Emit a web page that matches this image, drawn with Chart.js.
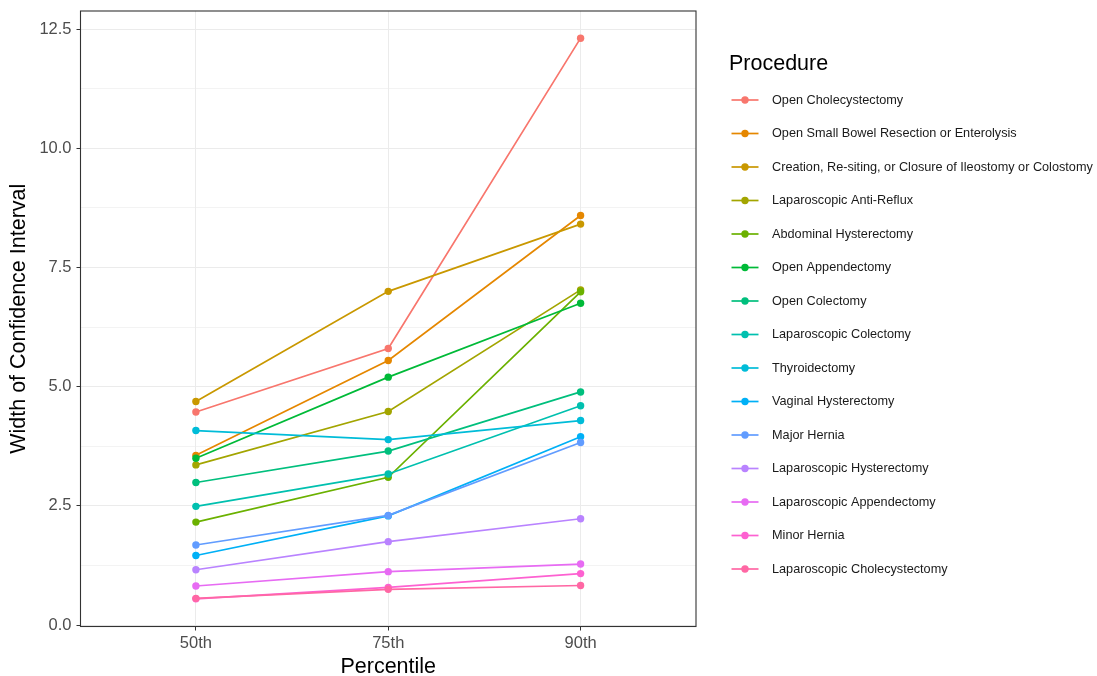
<!DOCTYPE html>
<html><head><meta charset="utf-8">
<script src="https://cdn.jsdelivr.net/npm/chart.js@4/dist/chart.umd.min.js"></script>
<style>html,body{margin:0;padding:0;background:#fff;overflow:hidden}</style>
</head><body>
<canvas id="c" width="1097" height="676" style="width:1097px;height:676px;display:block"></canvas>
<script>
// ---- data ----
const percentiles = ['50th', '75th', '90th'];
const procedures = [
  'Open Cholecystectomy',
  'Open Small Bowel Resection or Enterolysis',
  'Creation, Re-siting, or Closure of Ileostomy or Colostomy',
  'Laparoscopic Anti-Reflux',
  'Abdominal Hysterectomy',
  'Open Appendectomy',
  'Open Colectomy',
  'Laparoscopic Colectomy',
  'Thyroidectomy',
  'Vaginal Hysterectomy',
  'Major Hernia',
  'Laparoscopic Hysterectomy',
  'Laparoscopic Appendectomy',
  'Minor Hernia',
  'Laparoscopic Cholecystectomy'
];
const openCholecystectomy   = [4.47, 5.80, 12.31];
const openSmallBowel        = [3.56, 5.55, 8.59];
const ostomyCreation        = [4.69, 7.00, 8.41];
const lapAntiReflux         = [3.36, 4.48, 7.03];
const abdominalHysterectomy = [2.16, 3.10, 6.99];
const openAppendectomy      = [3.50, 5.20, 6.75];
const openColectomy         = [2.99, 3.65, 4.89];
const lapColectomy          = [2.49, 3.17, 4.60];
const thyroidectomy         = [4.08, 3.89, 4.29];
const vaginalHysterectomy   = [1.46, 2.29, 3.95];
const majorHernia           = [1.68, 2.30, 3.83];
const lapHysterectomy       = [1.16, 1.75, 2.23];
const lapAppendectomy       = [0.82, 1.12, 1.28];
const minorHernia           = [0.55, 0.79, 1.08];
const lapCholecystectomy    = [0.56, 0.75, 0.83];
const seriesValues = [openCholecystectomy, openSmallBowel, ostomyCreation, lapAntiReflux,
  abdominalHysterectomy, openAppendectomy, openColectomy, lapColectomy, thyroidectomy,
  vaginalHysterectomy, majorHernia, lapHysterectomy, lapAppendectomy, minorHernia, lapCholecystectomy];
const colors = ['#F8766D','#E58700','#C99800','#A3A500','#6BB100','#00BA38','#00BF7D','#00C0AF',
  '#00BCD8','#00B0F6','#619CFF','#B983FF','#E76BF3','#FD61D1','#FF67A4'];
const yTickValues = [0, 1.25, 2.5, 3.75, 5, 6.25, 7.5, 8.75, 10, 11.25, 12.5];

const FONT = '"Liberation Sans", Arial, Helvetica, sans-serif';
const isMajor = v => Math.abs(v / 2.5 - Math.round(v / 2.5)) < 1e-6;

const datasets = procedures.map((name, i) => ({
  label: name,
  data: seriesValues[i].map((v, j) => ({ x: j + 1, y: v })),
  borderColor: colors[i],
  backgroundColor: colors[i],
  borderWidth: 1.7,
  pointRadius: 3.7,
  pointBorderWidth: 0,
  pointHoverRadius: 3.7,
  tension: 0,
  order: procedures.length - i
}));

const panelBorder = {
  id: 'panelBorder',
  afterDatasetsDraw(chart) {
    const { ctx, chartArea: a } = chart;
    ctx.save();
    ctx.strokeStyle = '#333333';
    ctx.lineWidth = 1.1;
    ctx.strokeRect(a.left, a.top, a.right - a.left, a.bottom - a.top);
    ctx.restore();
  }
};

const ggLegend = {
  id: 'ggLegend',
  afterDraw(chart) {
    const ctx = chart.ctx;
    ctx.save();
    ctx.fillStyle = '#000';
    ctx.font = '21.5px ' + FONT;
    ctx.textBaseline = 'middle';
    ctx.textAlign = 'left';
    ctx.fillText('Procedure', 729, 64);
    ctx.font = '12.7px ' + FONT;
    chart.data.datasets.forEach((ds, i) => {
      const y = 100 + i * 33.5;
      ctx.strokeStyle = ds.borderColor;
      ctx.lineWidth = 1.7;
      ctx.beginPath(); ctx.moveTo(731.5, y); ctx.lineTo(758.5, y); ctx.stroke();
      ctx.fillStyle = ds.borderColor;
      ctx.beginPath(); ctx.arc(745, y, 3.7, 0, Math.PI * 2); ctx.fill();
      ctx.fillStyle = '#1a1a1a';
      ctx.fillText(ds.label, 772, y);
    });
    ctx.restore();
  }
};

new Chart(document.getElementById('c'), {
  type: 'line',
  data: { datasets },
  plugins: [panelBorder, ggLegend],
  options: {
    responsive: false,
    animation: false,
    devicePixelRatio: 1,
    layout: { padding: { top: 11, right: 401, bottom: 0, left: 0 } },
    plugins: { legend: { display: false }, tooltip: { enabled: false } },
    scales: {
      x: {
        type: 'linear',
        min: 0.4, max: 3.6,
        afterBuildTicks: s => { s.ticks = [1, 2, 3].map(v => ({ value: v })); },
        afterFit: s => { s.height = 49.5; s.paddingLeft = 0; s.paddingRight = 0; },
        ticks: {
          callback: v => percentiles[v - 1],
          font: { family: FONT, size: 16.5 },
          color: '#4d4d4d',
          padding: 3,
          autoSkip: false,
          maxRotation: 0
        },
        grid: { color: '#ebebeb', lineWidth: 1, tickLength: 4, tickColor: '#333333' },
        border: { display: false },
        title: { display: true, text: 'Percentile', color: '#000',
          font: { family: FONT, size: 21.5 }, padding: { top: 0, bottom: -4 } }
      },
      y: {
        type: 'linear',
        min: -0.03, max: 12.88,
        afterBuildTicks: s => { s.ticks = yTickValues.map(v => ({ value: v })); },
        afterFit: s => { s.width = 80.5; s.paddingTop = 0; s.paddingBottom = 0; },
        ticks: {
          callback: v => isMajor(v) ? v.toFixed(1) : '',
          font: { family: FONT, size: 16.5 },
          color: '#4d4d4d',
          padding: 5,
          autoSkip: false
        },
        grid: {
          color: '#ebebeb',
          lineWidth: c => (c.tick && isMajor(c.tick.value)) ? 1 : 0.6,
          tickLength: 4,
          tickColor: c => (c.tick && isMajor(c.tick.value)) ? '#333333' : 'rgba(0,0,0,0)'
        },
        border: { display: false },
        title: { display: true, text: 'Width of Confidence Interval', color: '#000',
          font: { family: FONT, size: 21.5 }, padding: { top: 6.6, bottom: 0 } }
      }
    }
  }
});
</script>
</body></html>
